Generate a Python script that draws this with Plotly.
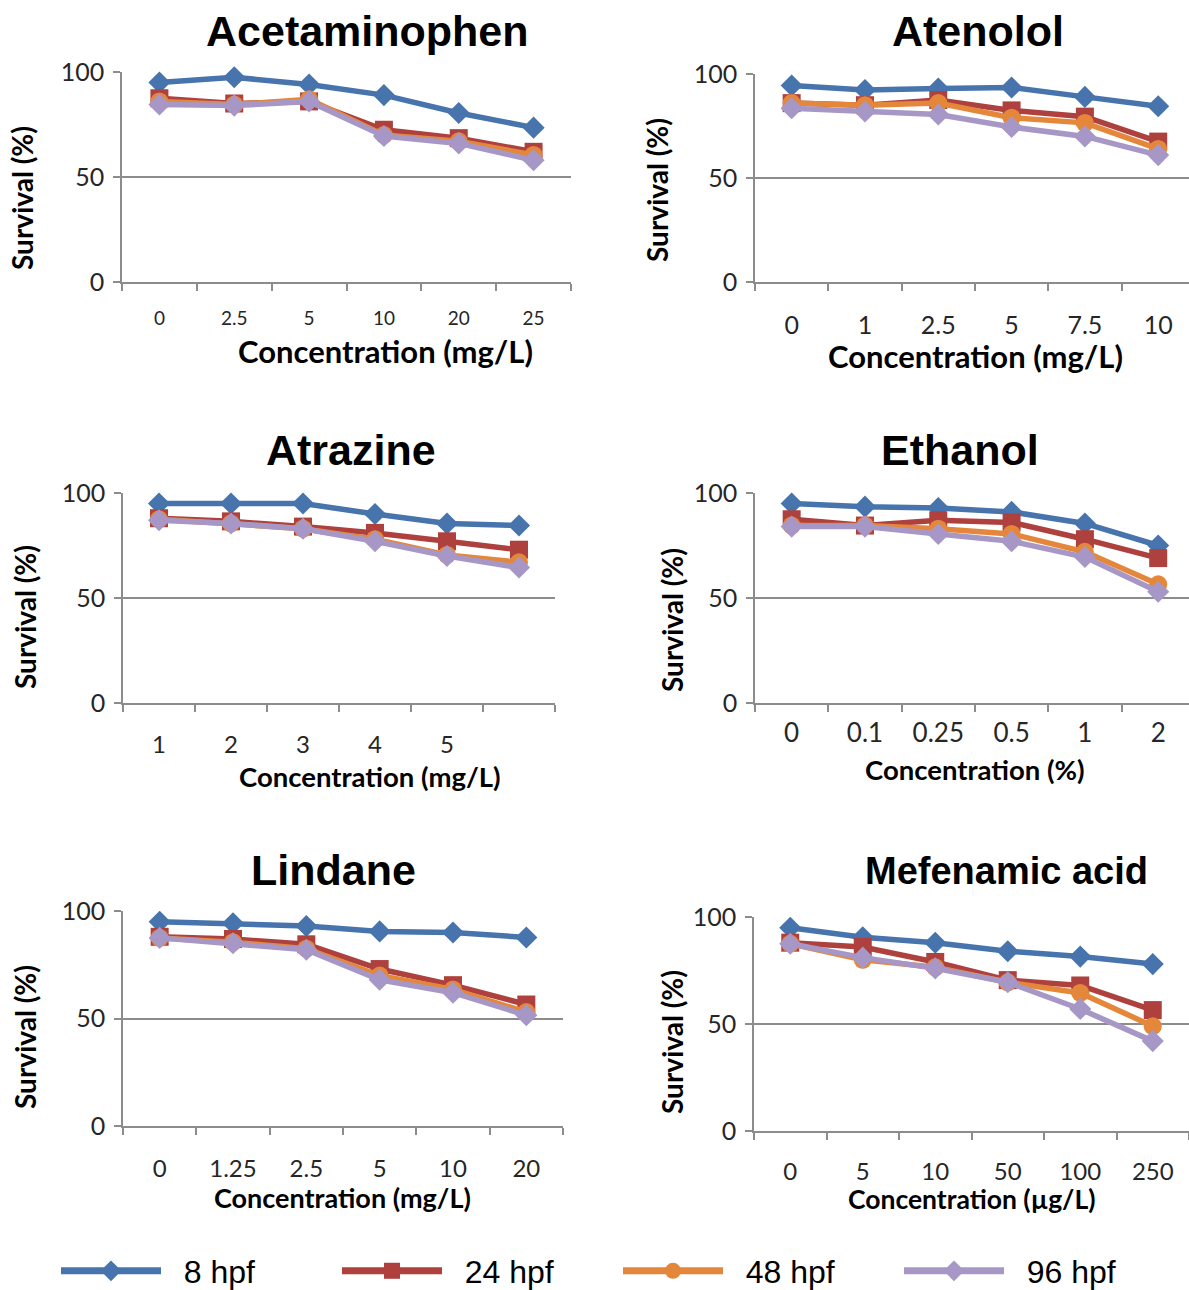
import plotly.graph_objects as go

# ---------------- data ----------------
series_names = ["8 hpf", "24 hpf", "48 hpf", "96 hpf"]

acet_cats = ["0", "2.5", "5", "10", "20", "25"]
acet_8 = [95, 97.5, 94, 89, 80.5, 73.5]
acet_24 = [87.5, 85, 86, 72.5, 68.5, 62]
acet_48 = [86, 84.5, 87, 70, 67, 60.5]
acet_96 = [84.5, 84, 86, 69.5, 66, 58]

aten_cats = ["0", "1", "2.5", "5", "7.5", "10"]
aten_8 = [94.5, 92.3, 93, 93.5, 89, 84.5]
aten_24 = [86, 85, 87.5, 82.5, 79.5, 67.5]
aten_48 = [86, 85, 86, 79, 76.5, 64]
aten_96 = [83.5, 82, 80.5, 74.5, 70, 61]

atra_cats = ["1", "2", "3", "4", "5", ""]
atra_8 = [95, 95, 95, 90, 85.5, 84.5]
atra_24 = [88, 86.5, 84, 81, 77, 73]
atra_48 = [87.5, 85.5, 83, 78, 70.5, 67]
atra_96 = [87, 85.5, 83, 77, 70, 64.5]

eth_cats = ["0", "0.1", "0.25", "0.5", "1", "2"]
eth_8 = [95, 93.5, 92.8, 91, 85.5, 75]
eth_24 = [87.5, 84.5, 87, 86, 78, 69]
eth_48 = [84.5, 84.5, 83, 80.5, 72, 56.5]
eth_96 = [84, 84, 80.5, 77, 69.5, 53]

lind_cats = ["0", "1.25", "2.5", "5", "10", "20"]
lind_8 = [95, 94.3, 93, 90.5, 90, 87.7]
lind_24 = [88, 87, 84.5, 73, 65.5, 56.5]
lind_48 = [87.5, 85.5, 82.5, 70, 63.5, 53]
lind_96 = [87.5, 85, 82, 68, 62, 51.5]

mef_cats = ["0", "5", "10", "50", "100", "250"]
mef_8 = [95, 90.5, 88, 84, 81.5, 78]
mef_24 = [88, 86, 79, 70.5, 68, 56.5]
mef_48 = [87.5, 80, 76.5, 69.5, 64.5, 49]
mef_96 = [87.5, 81, 76, 69.5, 57, 42]

y_ticks = [0, 50, 100]

# ---------------- styling ----------------
W, H = 1189, 1290
COLORS = ["#4774AC", "#AE403D", "#E5873A", "#A797C6"]
SYMBOLS = ["diamond", "square", "circle", "diamond"]
MSIZES = [17, 18, 18, 17]
GRID = "#8c8c8c"
TICKFONT = "Lato, Open Sans, sans-serif"
TITLEFONT = "Liberation Sans, Arial, sans-serif"


def fx(px):
    return px / W


def fy(py):
    return 1 - py / H


panels = [
    dict(title="Acetaminophen", cats=acet_cats, data=[acet_8, acet_24, acet_48, acet_96],
         xlabel="Concentration (mg/L)", box=(122, 571, 72, 282), xmax=5.5,
         title_pos=(367, 31), title_size=43, xlab_pos=(385, 351), xlab_size=31,
         ylab_pos=(22, 198), xtick_size=19, xtick_standoff=18),
    dict(title="Atenolol", cats=aten_cats, data=[aten_8, aten_24, aten_48, aten_96],
         xlabel="Concentration (mg/L)", box=(755, 1189, 74, 282), xmax=5.42,
         title_pos=(978, 31), title_size=43, xlab_pos=(975, 356), xlab_size=31,
         ylab_pos=(657, 190), xtick_size=25, xtick_standoff=20),
    dict(title="Atrazine", cats=atra_cats, data=[atra_8, atra_24, atra_48, atra_96],
         xlabel="Concentration (mg/L)", box=(123, 555, 493, 703), xmax=5.5,
         title_pos=(351, 450), title_size=43, xlab_pos=(370, 776), xlab_size=27.5,
         ylab_pos=(25, 617), xtick_size=24, xtick_standoff=19),
    dict(title="Ethanol", cats=eth_cats, data=[eth_8, eth_24, eth_48, eth_96],
         xlabel="Concentration (%)", box=(755, 1189, 493, 703), xmax=5.42,
         title_pos=(960, 450), title_size=43, xlab_pos=(975, 769), xlab_size=27.5,
         ylab_pos=(672, 620), xtick_size=26, xtick_standoff=6),
    dict(title="Lindane", cats=lind_cats, data=[lind_8, lind_24, lind_48, lind_96],
         xlabel="Concentration (mg/L)", box=(123, 563, 911, 1126), xmax=5.5,
         title_pos=(333, 870), title_size=43, xlab_pos=(342, 1197), xlab_size=27,
         ylab_pos=(25, 1037), xtick_size=24, xtick_standoff=20),
    dict(title="Mefenamic acid", cats=mef_cats, data=[mef_8, mef_24, mef_48, mef_96],
         xlabel="Concentration (µg/L)", box=(754, 1189, 917, 1131), xmax=5.5,
         title_pos=(1006, 871), title_size=38, xlab_pos=(972, 1199), xlab_size=26.5,
         ylab_pos=(672, 1042), xtick_size=24, xtick_standoff=18),
]

fig = go.Figure()
annotations = []
layout_axes = {}

for i, p in enumerate(panels, start=1):
    xs = "" if i == 1 else str(i)
    xref, yref = "x" + xs, "y" + xs
    idx = list(range(len(p["cats"])))
    for k, vals in enumerate(p["data"]):
        fig.add_trace(go.Scatter(
            x=idx, y=vals, xaxis=xref, yaxis=yref, mode="lines+markers",
            name=series_names[k], showlegend=False, cliponaxis=False,
            line=dict(color=COLORS[k], width=5.5),
            marker=dict(symbol=SYMBOLS[k], size=MSIZES[k], color=COLORS[k],
                        line=dict(width=0)),
        ))
    x0, x1, y0, y1 = p["box"]
    layout_axes["xaxis" + xs] = dict(
        domain=[fx(x0), min(1.0, fx(x1))], anchor=yref, range=[-0.5, p["xmax"]],
        tickmode="array", tickvals=idx, ticktext=p["cats"], ticks="", ticklen=0,
        ticklabelstandoff=p["xtick_standoff"],
        tickfont=dict(family=TICKFONT, size=p["xtick_size"], color="#262626"),
        showline=True, linecolor=GRID, linewidth=1.5, showgrid=False, zeroline=False,
        minor=dict(tickmode="array", tickvals=[v - 0.5 for v in idx + [len(idx)]],
                   ticks="outside", ticklen=7, tickcolor=GRID, tickwidth=1.5,
                   showgrid=False),
        fixedrange=True,
    )
    layout_axes["yaxis" + xs] = dict(
        domain=[fy(y1), fy(y0)], anchor=xref, range=[0, 100],
        tickmode="array", tickvals=y_ticks, ticks="outside", ticklen=7,
        tickcolor=GRID, tickwidth=1.5, ticklabelstandoff=4,
        tickfont=dict(family=TICKFONT, size=25, color="#262626"),
        showline=True, linecolor=GRID, linewidth=1.5,
        showgrid=True, gridcolor=GRID, gridwidth=1.5, zeroline=False,
        fixedrange=True,
    )
    tx, ty = p["title_pos"]
    annotations.append(dict(text="<b>%s</b>" % p["title"], x=fx(tx), y=fy(ty),
                            xref="paper", yref="paper", showarrow=False,
                            xanchor="center", yanchor="middle",
                            font=dict(family=TITLEFONT, size=p["title_size"], color="black")))
    lx, ly = p["xlab_pos"]
    annotations.append(dict(text="<b>%s</b>" % p["xlabel"], x=fx(lx), y=fy(ly),
                            xref="paper", yref="paper", showarrow=False,
                            xanchor="center", yanchor="middle",
                            font=dict(family=TICKFONT, size=p["xlab_size"], color="black")))
    yx, yy = p["ylab_pos"]
    annotations.append(dict(text="<b>Survival (%)</b>", x=fx(yx), y=fy(yy),
                            xref="paper", yref="paper", showarrow=False, textangle=-90,
                            xanchor="center", yanchor="middle",
                            font=dict(family=TICKFONT, size=28, color="black")))

# legend-only entries (no data points)
for k in range(4):
    fig.add_trace(go.Scatter(
        x=[None], y=[None], xaxis="x", yaxis="y", mode="lines+markers",
        name="\u00a0\u00a0" + series_names[k], showlegend=True,
        line=dict(color=COLORS[k], width=7),
        marker=dict(symbol=SYMBOLS[k], size=24, color=COLORS[k], line=dict(width=0)),
    ))

fig.update_layout(
    width=W, height=H, autosize=False,
    margin=dict(l=0, r=0, t=0, b=0, autoexpand=False),
    paper_bgcolor="white", plot_bgcolor="white",
    annotations=annotations,
    legend=dict(orientation="h", x=fx(56), y=fy(1271), xanchor="left", yanchor="middle",
                itemwidth=100, entrywidth=166, entrywidthmode="pixels",
                font=dict(family="Liberation Sans Narrow, Liberation Sans, Arial", size=32,
                          color="black"),
                bgcolor="rgba(0,0,0,0)", itemclick=False, itemdoubleclick=False),
    **layout_axes,
)

fig.write_html("out.html", config={"displayModeBar": False},
               post_script="document.body.style.margin='0';")
